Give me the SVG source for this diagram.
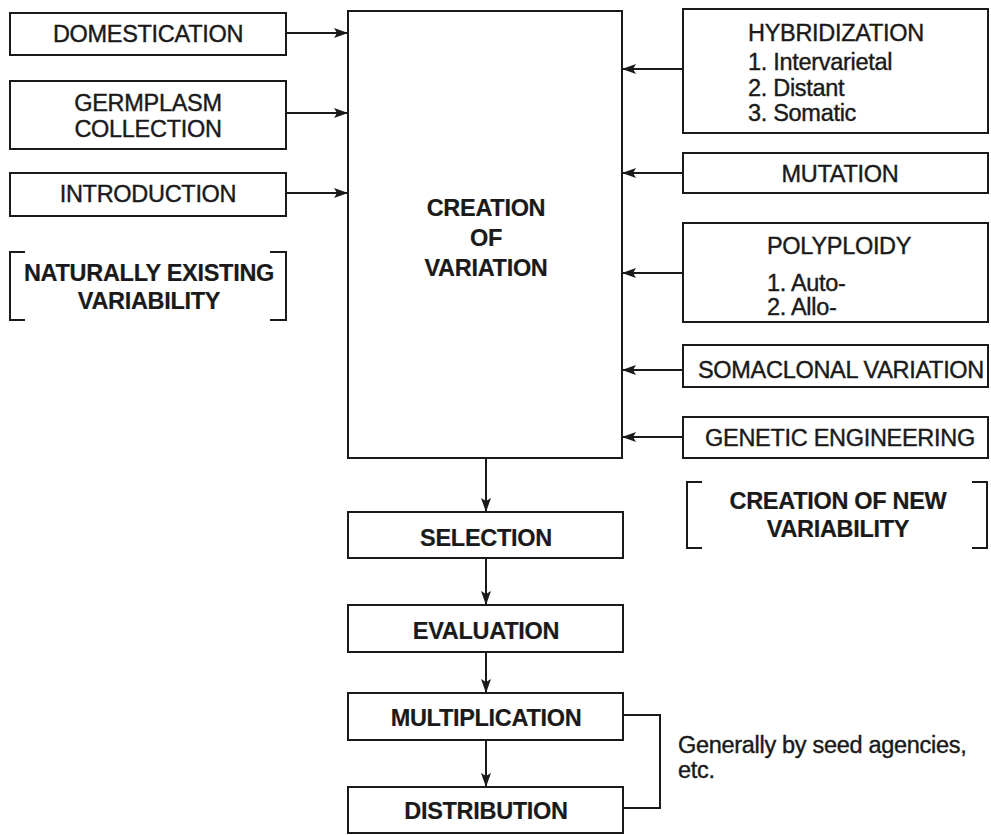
<svg xmlns="http://www.w3.org/2000/svg" width="991" height="835" viewBox="0 0 991 835">
<defs>
<marker id="ah" viewBox="0 0 14 10" refX="14" refY="5" markerWidth="14" markerHeight="10" markerUnits="userSpaceOnUse" orient="auto">
<path d="M0,0 L14,5 L0,10 L3,5 Z" fill="#1a1a1a"/>
</marker>
<style>
.box{fill:none;stroke:#1a1a1a;stroke-width:2}
.ln{fill:none;stroke:#1a1a1a;stroke-width:2}
.ar{fill:none;stroke:#1a1a1a;stroke-width:2;marker-end:url(#ah)}
text{font-family:"Liberation Sans",Arial,sans-serif;font-size:23.5px;fill:#1a1a1a;stroke:#1a1a1a;stroke-width:0.4;letter-spacing:-0.3px}
.c{text-anchor:middle}
.b{font-weight:bold;stroke-width:0.2}
</style>
</defs>
<rect width="991" height="835" fill="#ffffff"/>

<g id="domestication"><rect class="box" x="10" y="13" width="276" height="42"/><text class="c" x="148" y="42">DOMESTICATION</text></g>
<g id="germplasm"><rect class="box" x="10" y="81" width="276" height="68"/><text class="c" x="148" y="111">GERMPLASM</text><text class="c" x="148" y="137">COLLECTION</text></g>
<g id="introduction"><rect class="box" x="10" y="173" width="276" height="43"/><text class="c" x="148" y="202">INTRODUCTION</text></g>
<g id="naturally"><path class="ln" d="M25,252 H10 V320 H25 M270,252 H286 V320 H270"/><text class="c b" x="149" y="281">NATURALLY EXISTING</text><text class="c b" x="149" y="309">VARIABILITY</text></g>

<g id="creation"><rect class="box" x="348" y="11" width="274" height="447"/><text class="c b" x="486" y="216">CREATION</text><text class="c b" x="486" y="246">OF</text><text class="c b" x="486" y="276">VARIATION</text></g>

<g id="hybridization"><rect class="box" x="683" y="9" width="305" height="124"/><text x="748" y="41">HYBRIDIZATION</text><text x="748" y="70">1. Intervarietal</text><text x="748" y="96">2. Distant</text><text x="748" y="121">3. Somatic</text></g>
<g id="mutation"><rect class="box" x="683" y="153" width="305" height="40"/><text class="c" x="840" y="182">MUTATION</text></g>
<g id="polyploidy"><rect class="box" x="683" y="223" width="305" height="99"/><text x="767" y="254">POLYPLOIDY</text><text x="767" y="291">1. Auto-</text><text x="767" y="315">2. Allo-</text></g>
<g id="somaclonal"><rect class="box" x="683" y="345" width="305" height="42"/><text class="c" x="841" y="378">SOMACLONAL VARIATION</text></g>
<g id="genetic"><rect class="box" x="683" y="417" width="305" height="41"/><text class="c" x="840" y="446">GENETIC ENGINEERING</text></g>
<g id="newvar"><path class="ln" d="M702,482 H687 V548 H702 M972,482 H987 V548 H972"/><text class="c b" x="838" y="509">CREATION OF NEW</text><text class="c b" x="838" y="537">VARIABILITY</text></g>

<g id="selection"><rect class="box" x="348" y="512" width="275" height="46"/><text class="c b" x="486" y="546">SELECTION</text></g>
<g id="evaluation"><rect class="box" x="348" y="605" width="275" height="47"/><text class="c b" x="486" y="639">EVALUATION</text></g>
<g id="multiplication"><rect class="box" x="348" y="693" width="275" height="47"/><text class="c b" x="486" y="726">MULTIPLICATION</text></g>
<g id="distribution"><rect class="box" x="348" y="787" width="275" height="46"/><text class="c b" x="486" y="819">DISTRIBUTION</text></g>
<g id="note"><text x="678" y="753">Generally by seed agencies,</text><text x="678" y="778">etc.</text></g>

<g id="connectors">
<line class="ar" x1="286" y1="33" x2="348" y2="33"/>
<line class="ar" x1="286" y1="113" x2="348" y2="113"/>
<line class="ar" x1="286" y1="193" x2="348" y2="193"/>
<line class="ar" x1="683" y1="69" x2="622" y2="69"/>
<line class="ar" x1="683" y1="173" x2="622" y2="173"/>
<line class="ar" x1="683" y1="273" x2="622" y2="273"/>
<line class="ar" x1="683" y1="370" x2="622" y2="370"/>
<line class="ar" x1="683" y1="437" x2="622" y2="437"/>
<line class="ar" x1="486" y1="458" x2="486" y2="512"/>
<line class="ar" x1="486" y1="558" x2="486" y2="605"/>
<line class="ar" x1="486" y1="652" x2="486" y2="693"/>
<line class="ar" x1="486" y1="740" x2="486" y2="787"/>
<path class="ln" d="M623,715 H660 V808 H623"/>
</g>
</svg>
